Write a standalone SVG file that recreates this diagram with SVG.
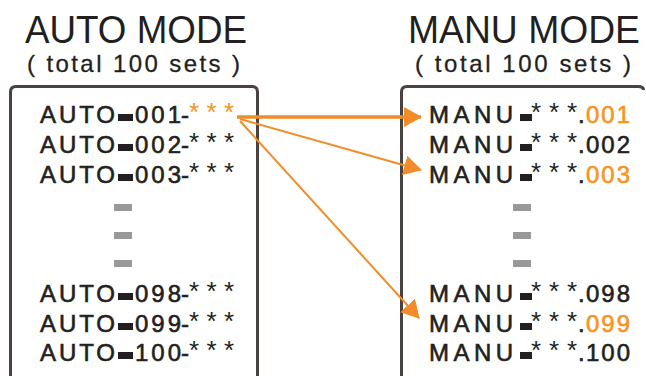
<svg xmlns="http://www.w3.org/2000/svg" width="646" height="376" viewBox="0 0 646 376">
<defs>
<style>
.t{font-family:"Liberation Sans",Arial,sans-serif;fill:#231f20}
.title{font-size:38px}
.sub{font-size:24px;stroke:#231f20;stroke-width:0.3}
.ln{font-size:24px;stroke:#231f20;stroke-width:0.6}
.ast{font-size:26px}
.or{fill:#f7941d}
.ln.or{stroke:#f7941d}
.dash{fill:#231f20}
.gap{fill:#999999}
.box{fill:none;stroke:#4a4240;stroke-width:3}
.arr{fill:none;stroke:#f28c28}
</style>
<marker id="ah" markerUnits="userSpaceOnUse" markerWidth="18" markerHeight="20" viewBox="0 0 18 20" refX="17" refY="10" orient="auto">
<path d="M0,0 L18,10 L0,20 Z" fill="#f28c28"/>
</marker>
</defs>

<g id="auto-mode">
<text class="t title" x="25" y="43" textLength="222" lengthAdjust="spacingAndGlyphs">AUTO MODE</text>
<text class="t sub" x="27" y="72" textLength="213" lengthAdjust="spacing">( total 100 sets )</text>
<path class="box" d="M10.5,380 V92 Q10.5,86.5 16,86.5 H252 Q257.5,86.5 257.5,92 V380"/>
<g id="auto-001">
<text class="t ln" x="40" y="123" textLength="75" lengthAdjust="spacing">AUTO</text>
<rect class="dash" x="118" y="114" width="15" height="7"/>
<text class="t ln" x="135" y="123" textLength="46" lengthAdjust="spacing">001</text>
<text class="t ln" x="181" y="123">-</text>
<text class="t ast or" x="189" y="121" textLength="45" lengthAdjust="spacing">***</text>
</g>
<g id="auto-002">
<text class="t ln" x="40" y="153" textLength="75" lengthAdjust="spacing">AUTO</text>
<rect class="dash" x="118" y="144" width="15" height="7"/>
<text class="t ln" x="135" y="153" textLength="46" lengthAdjust="spacing">002</text>
<text class="t ln" x="181" y="153">-</text>
<text class="t ast" x="189" y="151" textLength="45" lengthAdjust="spacing">***</text>
</g>
<g id="auto-003">
<text class="t ln" x="40" y="183" textLength="75" lengthAdjust="spacing">AUTO</text>
<rect class="dash" x="118" y="174" width="15" height="7"/>
<text class="t ln" x="135" y="183" textLength="46" lengthAdjust="spacing">003</text>
<text class="t ln" x="181" y="183">-</text>
<text class="t ast" x="189" y="181" textLength="45" lengthAdjust="spacing">***</text>
</g>
<rect class="gap" x="114" y="204" width="18" height="7"/>
<rect class="gap" x="114" y="232" width="18" height="7"/>
<rect class="gap" x="114" y="260" width="18" height="7"/>
<g id="auto-098">
<text class="t ln" x="40" y="302" textLength="75" lengthAdjust="spacing">AUTO</text>
<rect class="dash" x="118" y="293" width="15" height="7"/>
<text class="t ln" x="135" y="302" textLength="46" lengthAdjust="spacing">098</text>
<text class="t ln" x="181" y="302">-</text>
<text class="t ast" x="189" y="300" textLength="45" lengthAdjust="spacing">***</text>
</g>
<g id="auto-099">
<text class="t ln" x="40" y="332" textLength="75" lengthAdjust="spacing">AUTO</text>
<rect class="dash" x="118" y="323" width="15" height="7"/>
<text class="t ln" x="135" y="332" textLength="46" lengthAdjust="spacing">099</text>
<text class="t ln" x="181" y="332">-</text>
<text class="t ast" x="189" y="330" textLength="45" lengthAdjust="spacing">***</text>
</g>
<g id="auto-100">
<text class="t ln" x="40" y="361" textLength="75" lengthAdjust="spacing">AUTO</text>
<rect class="dash" x="118" y="352" width="15" height="7"/>
<text class="t ln" x="135" y="361" textLength="46" lengthAdjust="spacing">100</text>
<text class="t ln" x="181" y="361">-</text>
<text class="t ast" x="189" y="359" textLength="45" lengthAdjust="spacing">***</text>
</g>
</g>

<g id="manu-mode">
<text class="t title" x="408" y="43" textLength="232" lengthAdjust="spacingAndGlyphs">MANU MODE</text>
<text class="t sub" x="415" y="72" textLength="216" lengthAdjust="spacing">( total 100 sets )</text>
<path class="box" d="M401.5,380 V92 Q401.5,86.5 407,86.5 H638 Q643.5,86.5 643.5,90"/>
<g id="manu-001">
<text class="t ln" x="429" y="123" textLength="84" lengthAdjust="spacing">MANU</text>
<rect class="dash" x="520" y="114" width="12" height="7"/>
<text class="t ast" x="531" y="121" textLength="46" lengthAdjust="spacing">***</text>
<text class="t ln" x="578" y="123">.</text>
<text class="t ln or" x="586" y="123" textLength="44" lengthAdjust="spacing">001</text>
</g>
<g id="manu-002">
<text class="t ln" x="429" y="153" textLength="84" lengthAdjust="spacing">MANU</text>
<rect class="dash" x="520" y="144" width="12" height="7"/>
<text class="t ast" x="531" y="151" textLength="46" lengthAdjust="spacing">***</text>
<text class="t ln" x="578" y="153">.</text>
<text class="t ln" x="586" y="153" textLength="44" lengthAdjust="spacing">002</text>
</g>
<g id="manu-003">
<text class="t ln" x="429" y="183" textLength="84" lengthAdjust="spacing">MANU</text>
<rect class="dash" x="520" y="174" width="12" height="7"/>
<text class="t ast" x="531" y="181" textLength="46" lengthAdjust="spacing">***</text>
<text class="t ln" x="578" y="183">.</text>
<text class="t ln or" x="586" y="183" textLength="44" lengthAdjust="spacing">003</text>
</g>
<rect class="gap" x="513" y="204" width="18" height="7"/>
<rect class="gap" x="513" y="232" width="18" height="7"/>
<rect class="gap" x="513" y="260" width="18" height="7"/>
<g id="manu-098">
<text class="t ln" x="429" y="302" textLength="84" lengthAdjust="spacing">MANU</text>
<rect class="dash" x="520" y="293" width="12" height="7"/>
<text class="t ast" x="531" y="300" textLength="46" lengthAdjust="spacing">***</text>
<text class="t ln" x="578" y="302">.</text>
<text class="t ln" x="586" y="302" textLength="44" lengthAdjust="spacing">098</text>
</g>
<g id="manu-099">
<text class="t ln" x="429" y="332" textLength="84" lengthAdjust="spacing">MANU</text>
<rect class="dash" x="520" y="323" width="12" height="7"/>
<text class="t ast" x="531" y="330" textLength="46" lengthAdjust="spacing">***</text>
<text class="t ln" x="578" y="332">.</text>
<text class="t ln or" x="586" y="332" textLength="44" lengthAdjust="spacing">099</text>
</g>
<g id="manu-100">
<text class="t ln" x="429" y="361" textLength="84" lengthAdjust="spacing">MANU</text>
<rect class="dash" x="520" y="352" width="12" height="7"/>
<text class="t ast" x="531" y="359" textLength="46" lengthAdjust="spacing">***</text>
<text class="t ln" x="578" y="361">.</text>
<text class="t ln" x="586" y="361" textLength="44" lengthAdjust="spacing">100</text>
</g>
</g>

<g id="connectors">
<line class="arr" x1="237" y1="117" x2="421" y2="117" stroke-width="3.5" marker-end="url(#ah)"/>
<line class="arr" x1="240" y1="119" x2="421" y2="170" stroke-width="2" marker-end="url(#ah)"/>
<line class="arr" x1="240" y1="121" x2="419" y2="318" stroke-width="2" marker-end="url(#ah)"/>
</g>
</svg>
